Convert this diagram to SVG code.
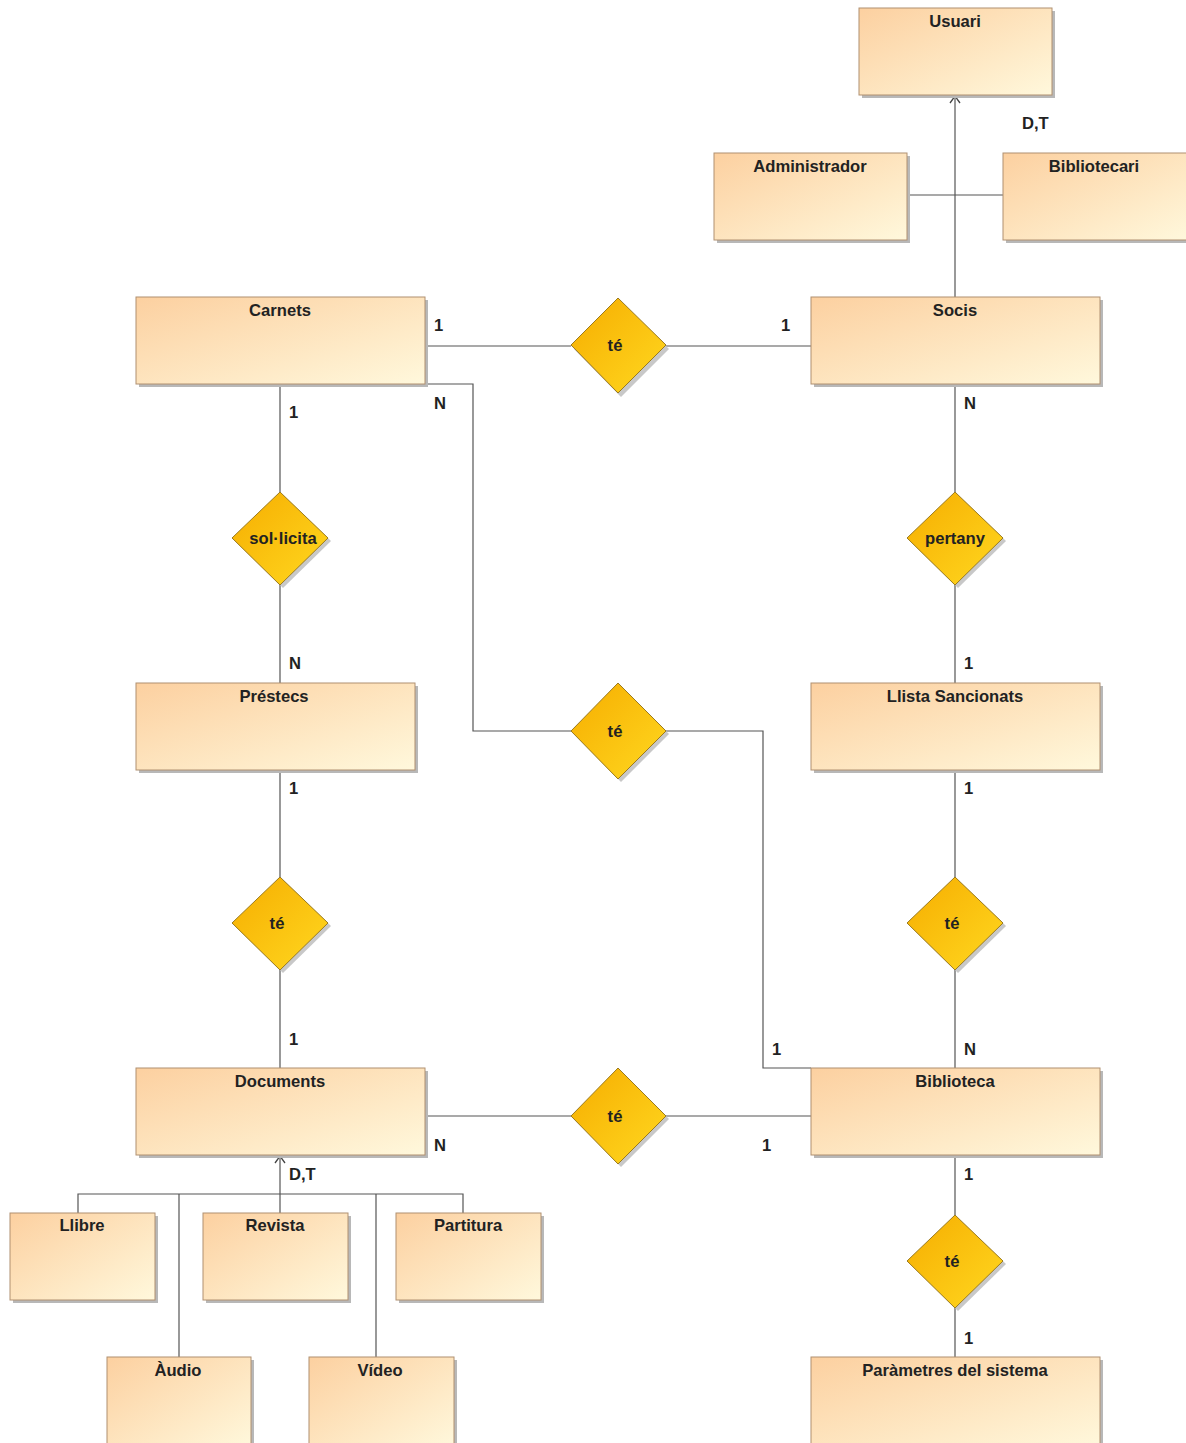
<svg xmlns="http://www.w3.org/2000/svg" width="1186" height="1443" viewBox="0 0 1186 1443">
<style>
.box{fill:url(#bg);stroke:#b09070;stroke-width:1}
.sh{fill:#b8b8b8}
.dia{fill:url(#dg);stroke:#9a7a20;stroke-width:1}
.dsh{fill:#c8c8c8}
.t{font-family:"Liberation Sans",Arial,sans-serif;font-weight:bold;font-size:16.6px;fill:#222;text-anchor:middle}
.l{font-family:"Liberation Sans",Arial,sans-serif;font-weight:bold;font-size:16.6px;fill:#222}
.c{fill:none;stroke:#555;stroke-width:1.2}
</style>
<defs>
<linearGradient id="bg" x1="0" y1="0" x2="1" y2="1">
<stop offset="0" stop-color="#fcd0a0"/>
<stop offset="1" stop-color="#fff8dc"/>
</linearGradient>
<linearGradient id="dg" x1="0" y1="0" x2="1" y2="1">
<stop offset="0" stop-color="#f6ad00"/>
<stop offset="1" stop-color="#ffd820"/>
</linearGradient>
<marker id="arr" markerWidth="14" markerHeight="14" refX="8" refY="7" orient="auto" markerUnits="userSpaceOnUse" viewBox="0 0 14 14">
<path d="M1,2 L8,7 L1,12" fill="none" stroke="#444" stroke-width="1.3"/>
</marker>
</defs>
<rect width="1186" height="1443" fill="#fff"/>

<g id="connectors">
<path class="c" d="M955,297 V96" marker-end="url(#arr)"/>
<path class="c" d="M907,195 H1003"/>
<path class="c" d="M425,346 H571 M666,346 H811"/>
<path class="c" d="M425,384 H473 V731 H571 M666,731 H763 V1068 H811"/>
<path class="c" d="M280,384 V492 M280,584 V683"/>
<path class="c" d="M955,384 V492 M955,584 V683"/>
<path class="c" d="M280,770 V877 M280,970 V1068"/>
<path class="c" d="M955,770 V877 M955,970 V1068"/>
<path class="c" d="M425,1116 H571 M666,1116 H811"/>
<path class="c" d="M955,1155 V1215 M955,1307 V1357"/>
<path class="c" d="M280,1213 V1156" marker-end="url(#arr)"/>
<path class="c" d="M78,1213 V1194 H463 V1213 M179,1194 V1357 M376,1194 V1357"/>
<text class="l" x="1022" y="129">D,T</text>
<text class="l" x="434" y="331">1</text>
<text class="l" x="781" y="331">1</text>
<text class="l" x="434" y="409">N</text>
<text class="l" x="289" y="418">1</text>
<text class="l" x="289" y="669">N</text>
<text class="l" x="964" y="409">N</text>
<text class="l" x="964" y="669">1</text>
<text class="l" x="289" y="794">1</text>
<text class="l" x="289" y="1045">1</text>
<text class="l" x="964" y="794">1</text>
<text class="l" x="964" y="1055">N</text>
<text class="l" x="772" y="1055">1</text>
<text class="l" x="434" y="1151">N</text>
<text class="l" x="762" y="1151">1</text>
<text class="l" x="964" y="1180">1</text>
<text class="l" x="964" y="1344">1</text>
<text class="l" x="289" y="1180">D,T</text>
</g>

<g id="Usuari"><rect class="sh" x="862" y="11" width="193" height="87"/><rect class="box" x="859" y="8" width="193" height="87"/><text class="t" x="955" y="27">Usuari</text></g>
<g id="Administrador"><rect class="sh" x="717" y="156" width="193" height="87"/><rect class="box" x="714" y="153" width="193" height="87"/><text class="t" x="810" y="172">Administrador</text></g>
<g id="Bibliotecari"><rect class="sh" x="1006" y="156" width="185" height="87"/><rect class="box" x="1003" y="153" width="185" height="87"/><text class="t" x="1094" y="172">Bibliotecari</text></g>
<g id="Carnets"><rect class="sh" x="139" y="300" width="289" height="87"/><rect class="box" x="136" y="297" width="289" height="87"/><text class="t" x="280" y="316">Carnets</text></g>
<g id="Socis"><rect class="sh" x="814" y="300" width="289" height="87"/><rect class="box" x="811" y="297" width="289" height="87"/><text class="t" x="955" y="316">Socis</text></g>
<g id="Prestecs"><rect class="sh" x="139" y="686" width="279" height="87"/><rect class="box" x="136" y="683" width="279" height="87"/><text class="t" x="274" y="702">Préstecs</text></g>
<g id="LlistaSancionats"><rect class="sh" x="814" y="686" width="289" height="87"/><rect class="box" x="811" y="683" width="289" height="87"/><text class="t" x="955" y="702">Llista Sancionats</text></g>
<g id="Documents"><rect class="sh" x="139" y="1071" width="289" height="87"/><rect class="box" x="136" y="1068" width="289" height="87"/><text class="t" x="280" y="1087">Documents</text></g>
<g id="Biblioteca"><rect class="sh" x="814" y="1071" width="289" height="87"/><rect class="box" x="811" y="1068" width="289" height="87"/><text class="t" x="955" y="1087">Biblioteca</text></g>
<g id="Llibre"><rect class="sh" x="13" y="1216" width="145" height="87"/><rect class="box" x="10" y="1213" width="145" height="87"/><text class="t" x="82" y="1231">Llibre</text></g>
<g id="Revista"><rect class="sh" x="206" y="1216" width="145" height="87"/><rect class="box" x="203" y="1213" width="145" height="87"/><text class="t" x="275" y="1231">Revista</text></g>
<g id="Partitura"><rect class="sh" x="399" y="1216" width="145" height="87"/><rect class="box" x="396" y="1213" width="145" height="87"/><text class="t" x="468" y="1231">Partitura</text></g>
<g id="Audio"><rect class="sh" x="110" y="1360" width="144" height="90"/><rect class="box" x="107" y="1357" width="144" height="90"/><text class="t" x="178" y="1376">Àudio</text></g>
<g id="Video"><rect class="sh" x="312" y="1360" width="145" height="90"/><rect class="box" x="309" y="1357" width="145" height="90"/><text class="t" x="380" y="1376">Vídeo</text></g>
<g id="Parametres"><rect class="sh" x="814" y="1360" width="289" height="90"/><rect class="box" x="811" y="1357" width="289" height="90"/><text class="t" x="955" y="1376">Paràmetres del sistema</text></g>

<g id="te1"><path class="dsh" d="M621,302 L669,349 L621,397 L574,349Z"/><path class="dia" d="M618,298 L666,345 L618,393 L571,345Z"/><text class="t" x="615" y="351">té</text></g>
<g id="sollicita"><path class="dsh" d="M283,495 L331,541 L283,588 L235,541Z"/><path class="dia" d="M280,492 L328,538 L280,585 L232,538Z"/><text class="t" x="283" y="544">sol·licita</text></g>
<g id="pertany"><path class="dsh" d="M958,495 L1006,541 L958,588 L910,541Z"/><path class="dia" d="M955,492 L1003,538 L955,585 L907,538Z"/><text class="t" x="955" y="544">pertany</text></g>
<g id="te2"><path class="dsh" d="M621,687 L669,734 L621,782 L574,734Z"/><path class="dia" d="M618,683 L666,731 L618,779 L571,731Z"/><text class="t" x="615" y="737">té</text></g>
<g id="te3"><path class="dsh" d="M283,880 L331,926 L283,973 L235,926Z"/><path class="dia" d="M280,877 L328,923 L280,970 L232,923Z"/><text class="t" x="277" y="929">té</text></g>
<g id="te4"><path class="dsh" d="M958,880 L1006,926 L958,973 L910,926Z"/><path class="dia" d="M955,877 L1003,923 L955,970 L907,923Z"/><text class="t" x="952" y="929">té</text></g>
<g id="te5"><path class="dsh" d="M621,1072 L669,1119 L621,1167 L574,1119Z"/><path class="dia" d="M618,1068 L666,1116 L618,1164 L571,1116Z"/><text class="t" x="615" y="1122">té</text></g>
<g id="te6"><path class="dsh" d="M958,1218 L1006,1264 L958,1311 L910,1264Z"/><path class="dia" d="M955,1215 L1003,1261 L955,1308 L907,1261Z"/><text class="t" x="952" y="1267">té</text></g>
</svg>
